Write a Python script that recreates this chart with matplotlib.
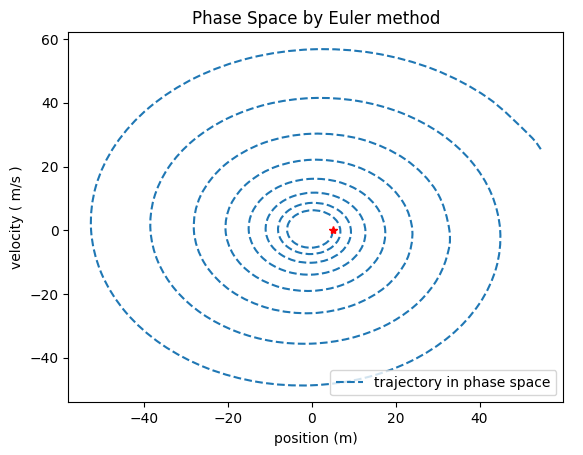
import numpy as np
import matplotlib.pyplot as plt
from matplotlib.path import Path
from matplotlib.patches import PathPatch
from matplotlib.lines import Line2D

# phase space trajectory, one list per turn of the spiral
# (clockwise, starting at the red star)
pos_turn1 = [5.0, 4.71, 3.68, 2.03, 0.0, -2.11, -3.98, -5.30, -5.85, -5.51, -4.30, -2.37, 0.0, 2.47, 4.65, 6.20]
vel_turn1 = [0.0, -1.95, -3.68, -4.90, -5.41, -5.10, -3.98, -2.19, 0.0, 2.28, 4.30, 5.73, 6.33, 5.96, 4.65, 2.57]

pos_turn2 = [6.84, 6.45, 5.03, 2.78, 0.0, -2.89, -5.44, -7.25, -8.00, -7.54, -5.89, -3.25, 0.0, 3.38, 6.37, 8.48]
vel_turn2 = [0.0, -2.67, -5.03, -6.70, -7.40, -6.97, -5.44, -3.00, 0.0, 3.12, 5.89, 7.84, 8.66, 8.16, 6.37, 3.51]

pos_turn3 = [9.36, 8.82, 6.88, 3.80, 0.0, -3.95, -7.45, -9.92, -10.95, -10.32, -8.05, -4.45, 0.0, 4.62, 8.71, 11.61]
vel_turn3 = [0.0, -3.65, -6.88, -9.17, -10.13, -9.54, -7.45, -4.11, 0.0, 4.27, 8.05, 10.73, 11.85, 11.16, 8.71, 4.81]

pos_turn4 = [12.81, 12.07, 9.42, 5.20, 0.0, -5.41, -10.19, -13.58, -14.99, -14.12, -11.02, -6.08, 0.0, 6.33, 11.92, 15.88]
vel_turn4 = [0.0, -5.00, -9.42, -12.55, -13.86, -13.06, -10.19, -5.62, 0.0, 5.85, 11.02, 14.68, 16.21, 15.27, 11.92, 6.58]

pos_turn5 = [17.53, 16.52, 12.89, 7.12, 0.0, -7.40, -13.94, -18.58, -20.51, -19.32, -15.08, -8.32, 0.0, 8.66, 16.31, 21.73]
vel_turn5 = [0.0, -6.84, -12.89, -17.18, -18.96, -17.87, -13.94, -7.70, 0.0, 8.00, 15.08, 20.10, 22.18, 20.90, 16.31, 9.00]

pos_turn6 = [23.99, 22.60, 17.64, 9.74, 0.0, -10.13, -19.08, -25.42, -28.06, -26.44, -20.64, -11.39, 0.0, 11.85, 22.32, 29.74]
vel_turn6 = [0.0, -9.36, -17.64, -23.51, -25.95, -24.45, -19.08, -10.53, 0.0, 10.95, 20.64, 27.50, 30.35, 28.60, 22.32, 12.32]

pos_turn7 = [32.83, 32.13, 29.18, 24.14, 17.30, 9.07, 0.0, -9.31, -18.22, -26.11, -32.40, -36.61,
             -38.40, -37.58, -34.14, -28.24, -20.23, -10.61, 0.0, 10.89, 21.32, 30.55, 37.90, 42.83]
vel_turn7 = [0.0, -8.61, -16.85, -24.14, -29.96, -33.85, -35.51, -34.75, -31.57, -26.11, -18.71, -9.81,
             0.0, 10.07, 19.71, 28.24, 35.04, 39.60, 41.54, 40.65, 36.92, 30.55, 21.88, 11.48]

pos_turn8 = [44.92, 43.96, 39.93, 33.03, 23.67, 12.41, 0.0, -12.74, -24.94, -35.73, -44.33, -50.10,
             -52.55, -51.43, -46.71, -38.64, -27.68, -14.52, 0.0, 14.90, 29.17, 41.79, 51.86, 54.6]
vel_turn8 = [0.0, -11.78, -23.05, -33.03, -40.99, -46.32, -48.58, -47.55, -43.19, -35.73, -25.60, -13.42,
             0.0, 13.78, 26.97, 38.64, 47.95, 54.18, 56.83, 55.62, 50.52, 41.79, 29.94, 25.5]

start_pos = 5.0
start_vel = 0.0

position = np.concatenate([pos_turn1, pos_turn2, pos_turn3, pos_turn4,
                           pos_turn5, pos_turn6, pos_turn7, pos_turn8])
velocity = np.concatenate([vel_turn1, vel_turn2, vel_turn3, vel_turn4,
                           vel_turn5, vel_turn6, vel_turn7, vel_turn8])


def smooth_path(x, y):
    # cubic bezier path through the points (catmull-rom tangents)
    pts = np.column_stack([x, y])
    padded = np.vstack([pts[:1], pts, pts[-1:]])
    verts = [pts[0]]
    codes = [Path.MOVETO]
    for i in range(len(pts) - 1):
        p0, p1, p2, p3 = padded[i], padded[i + 1], padded[i + 2], padded[i + 3]
        verts += [p1 + (p2 - p0) / 6, p2 - (p3 - p1) / 6, p2]
        codes += [Path.CURVE4] * 3
    return Path(verts, codes)


fig = plt.figure(figsize=(5.83, 4.55), dpi=100)
ax = fig.add_axes([0.1172, 0.1158, 0.849, 0.8132])

traj = PathPatch(smooth_path(position, velocity), fill=False, edgecolor='C0',
                 lw=1.5, ls='--', joinstyle='round')
ax.add_patch(traj)
ax.autoscale_view()
ax.plot(start_pos, start_vel, 'r*')
ax.set_xlabel('position (m)')
ax.set_ylabel('velocity ( m/s )')
ax.set_title('Phase Space by Euler method')
handle = Line2D([], [], color='C0', ls='--', lw=1.5)
ax.legend([handle], ['trajectory in phase space'], loc='lower right')

fig.savefig('out.png', dpi=100)
